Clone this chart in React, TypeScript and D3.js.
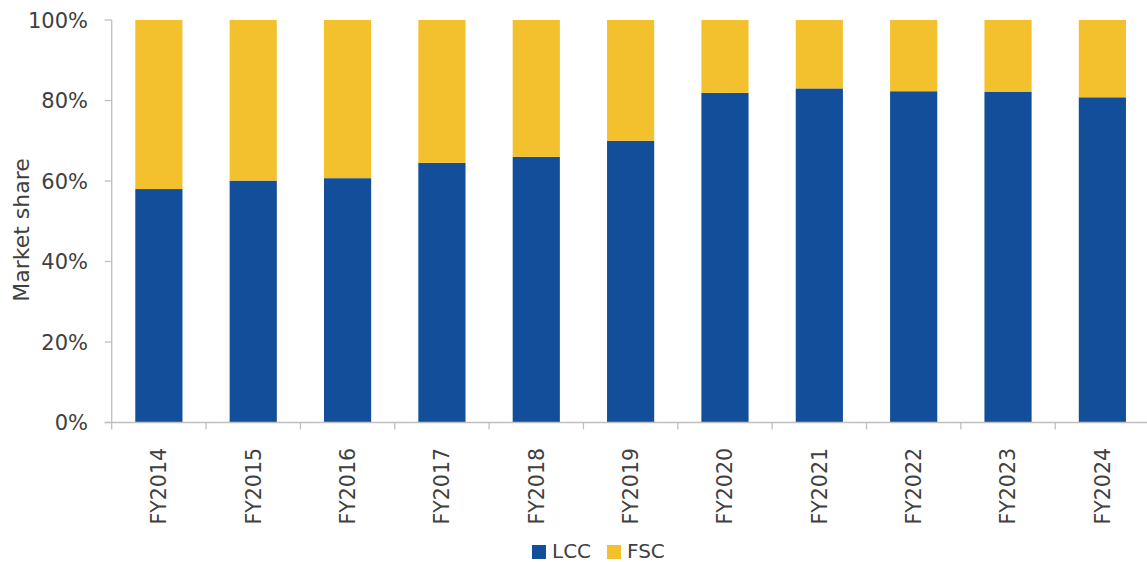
import React from "react";
import * as d3 from "d3";

const categories = ["FY2014", "FY2015", "FY2016", "FY2017", "FY2018", "FY2019", "FY2020", "FY2021", "FY2022", "FY2023", "FY2024"];
const lccShare = [58.0, 60.1, 60.7, 64.5, 66.0, 70.0, 81.9, 83.0, 82.3, 82.2, 80.8];
const fscShare = lccShare.map((v) => 100 - v);
const yTicks = [0, 20, 40, 60, 80, 100];
const seriesNames = ["LCC", "FSC"];
const seriesColors = ["#124E99", "#F3C12E"];

const W = 1147;
const H = 562;
const left = 111.7;
const right = left + 94.35 * 11;
const top = 20;
const bottom = 422.5;
const FONT = "'DejaVu Sans', Verdana, sans-serif";
const TEXT = "#404040";
const AXIS = "#BFBFBF";

export default function App() {
  const x = d3.scaleBand<string>().domain(categories).range([left, right]).paddingInner(0.5).paddingOuter(0.25);
  const y = d3.scaleLinear().domain([0, 100]).range([bottom, top]);
  const stackData = categories.map((c, i) => ({ cat: c, LCC: lccShare[i], FSC: fscShare[i] }));
  const stacked = d3.stack<any>().keys(seriesNames)(stackData);
  const step = x.step();

  return (
    <svg width={W} height={H} style={{ position: "absolute", left: 0, top: 0, background: "#fff" }} fontFamily={FONT}>
      {stacked.map((layer, li) => (
        <g key={layer.key} fill={seriesColors[li]}>
          {layer.map((d, i) => (
            <rect
              key={i}
              x={x(categories[i])!}
              width={x.bandwidth()}
              y={y(d[1])}
              height={y(d[0]) - y(d[1])}
            />
          ))}
        </g>
      ))}
      {/* y axis */}
      <line x1={left} x2={left} y1={top} y2={bottom} stroke={AXIS} strokeWidth={1.3} />
      {yTicks.map((t) => (
        <g key={t}>
          <line x1={left - 7} x2={left} y1={y(t)} y2={y(t)} stroke={AXIS} strokeWidth={1.3} />
          <text x={88} y={y(t)} dy="0.36em" textAnchor="end" fontSize={21} fill={TEXT}>
            {t}%
          </text>
        </g>
      ))}
      {/* x axis */}
      <line x1={left - 7} x2={W} y1={bottom} y2={bottom} stroke={AXIS} strokeWidth={1.3} />
      {d3.range(categories.length + 1).map((i) => (
        <line key={i} x1={left + i * step} x2={left + i * step} y1={bottom} y2={bottom + 7} stroke={AXIS} strokeWidth={1.3} />
      ))}
      {categories.map((c) => {
        const cx = x(c)! + x.bandwidth() / 2;
        return (
          <text
            key={c}
            transform={`translate(${cx},448) rotate(-90)`}
            dy="0.36em"
            textAnchor="end"
            fontSize={20.5}
            fill={TEXT}
          >
            {c}
          </text>
        );
      })}
      <text transform={`translate(21,230) rotate(-90)`} dy="0.36em" textAnchor="middle" fontSize={22} fill={TEXT}>
        Market share
      </text>
      {/* legend */}
      {seriesNames.map((s, i) => {
        const lx = 532 + i * 75;
        return (
          <g key={s}>
            <rect x={lx} y={545} width={14} height={14} fill={seriesColors[i]} />
            <text x={lx + 20} y={558} fontSize={20} fill={TEXT}>
              {s}
            </text>
          </g>
        );
      })}
    </svg>
  );
}
